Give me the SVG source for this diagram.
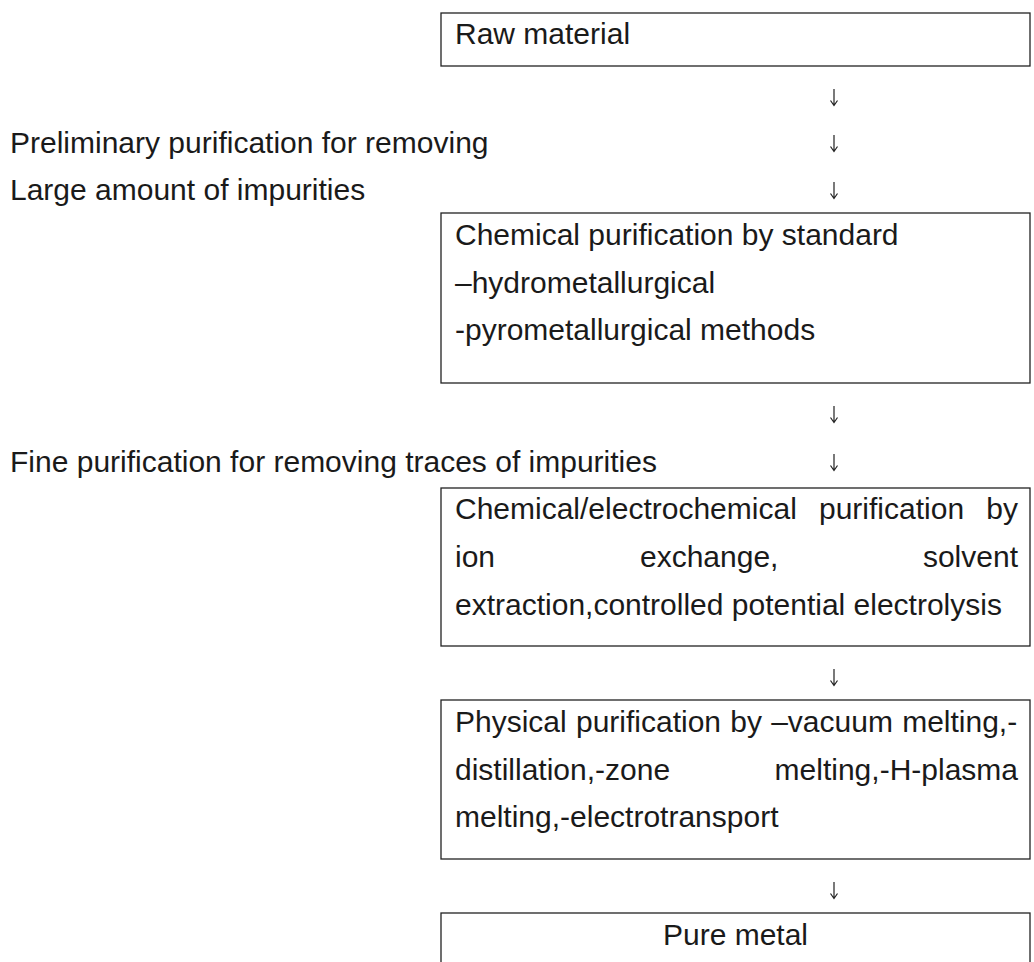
<svg xmlns="http://www.w3.org/2000/svg" width="1034" height="962" viewBox="0 0 1034 962">
<defs>
<style>
.t{font-family:"Liberation Sans",Arial,sans-serif;font-size:30px;fill:#1a1a1a}
.box{fill:none;stroke:#222;stroke-width:1.3}
.arr{stroke:#222;stroke-width:1.2;fill:none}
</style>
</defs>
<rect width="1034" height="962" fill="#fff"/>
<g id="n1">
<rect class="box" x="441" y="13" width="589" height="53"/>
<text class="t" x="455" y="44">Raw material</text>
</g>
<g id="l1">
<text class="t" x="10" y="153">Preliminary purification for removing</text>
<text class="t" x="10" y="200">Large amount of impurities</text>
</g>
<g id="n2">
<rect class="box" x="441" y="213" width="589" height="170"/>
<text class="t" x="455" y="245">Chemical purification by standard</text>
<text class="t" x="455" y="293">–hydrometallurgical</text>
<text class="t" x="455" y="340">-pyrometallurgical methods</text>
</g>
<g id="l2">
<text class="t" x="10" y="472">Fine purification for removing traces of impurities</text>
</g>
<g id="n3">
<rect class="box" x="441" y="488" width="589" height="158"/>
<text class="t" x="455" y="519">Chemical/electrochemical</text>
<text class="t" x="819" y="519">purification</text>
<text class="t" x="1018" y="519" text-anchor="end">by</text>
<text class="t" x="455" y="567">ion</text>
<text class="t" x="640" y="567">exchange,</text>
<text class="t" x="1018" y="567" text-anchor="end">solvent</text>
<text class="t" x="455" y="615">extraction,controlled potential electrolysis</text>
</g>
<g id="n4">
<rect class="box" x="441" y="700" width="589" height="159"/>
<text class="t" x="455" y="732" word-spacing="0.9">Physical purification by –vacuum melting,-</text>
<text class="t" x="455" y="780">distillation,-zone</text>
<text class="t" x="1018" y="780" text-anchor="end">melting,-H-plasma</text>
<text class="t" x="455" y="827">melting,-electrotransport</text>
</g>
<g id="n5">
<rect class="box" x="441" y="913" width="589" height="60"/>
<text class="t" x="735.5" y="945" text-anchor="middle">Pure metal</text>
</g>
<g id="connectors">
<path class="arr" d="M834 89V105M830.5 100.5L834 105.5L837.5 100.5"/>
<path class="arr" d="M834 135V151M830.5 146.5L834 151.5L837.5 146.5"/>
<path class="arr" d="M834 182V198M830.5 193.5L834 198.5L837.5 193.5"/>
<path class="arr" d="M834 406V422M830.5 417.5L834 422.5L837.5 417.5"/>
<path class="arr" d="M834 454V470M830.5 465.5L834 470.5L837.5 465.5"/>
<path class="arr" d="M834 669V685M830.5 680.5L834 685.5L837.5 680.5"/>
<path class="arr" d="M834 882V898M830.5 893.5L834 898.5L837.5 893.5"/>
</g>
</svg>
